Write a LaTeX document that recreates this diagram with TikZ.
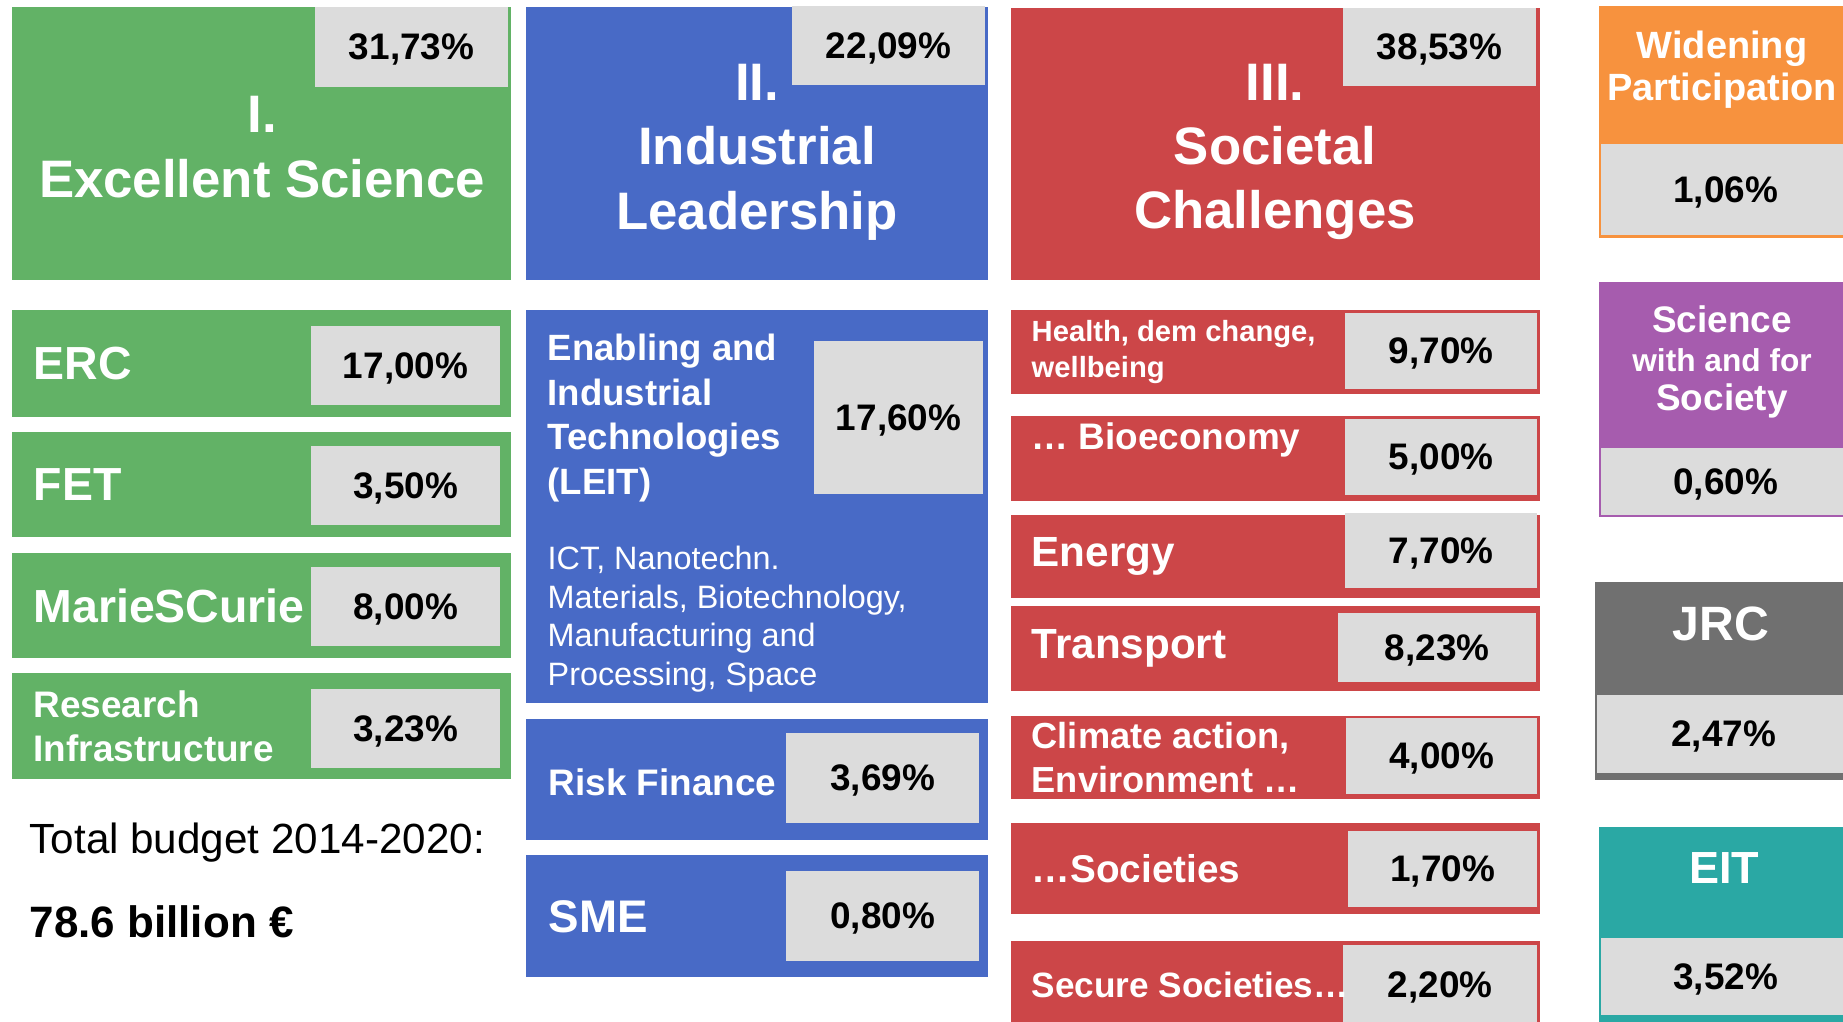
\documentclass[tikz,border=0pt]{standalone}
\usepackage{fontspec}
\setmainfont{Liberation Sans}
\usetikzlibrary{calc, positioning}

\definecolor{esgreen}{RGB}{98,178,102}
\definecolor{ilblue}{RGB}{72,106,198}
\definecolor{scred}{RGB}{204,70,72}
\definecolor{wporange}{RGB}{247,146,62}
\definecolor{swspurple}{RGB}{166,92,174}
\definecolor{jrcgray}{RGB}{112,112,112}
\definecolor{eitteal}{RGB}{42,168,164}
\definecolor{pctgray}{RGB}{220,220,220}
\newcommand{\fsz}[2]{\fontsize{#1}{#2}\selectfont}

\begin{document}
\begin{tikzpicture}[x=0.01cm, y=-0.01cm,
    block/.style=
    {anchor=north west, inner sep=0pt, outer sep=0pt, text=white, align=center}, pct/.style=
    {anchor=north west, fill=pctgray, inner sep=0pt, outer sep=0pt, text depth=0pt, font=\bfseries\fsz{10.5}{12}},
    sz/.style 2 args={minimum width=#1cm, minimum height=#2cm},
    lbl/.style=
    {text=white, inner sep=0pt, anchor=west, align=left}, clbl/.style=
    {lbl, anchor=center, align=center},
    headfont/.style={font=\bfseries\fsz{15}{18.3}},
    node distance = 0.21cm]
    \useasboundingbox (0,0) rectangle (1843,1022);
    \fill[white] (0,0) rectangle (1843,1022);
    \clip (0,0) rectangle (1843,1022);
    % I. Excellent Science
    \node (es) [block, fill=esgreen, sz={4.99}{2.73}] at (12,7) {};
    \node (esP) [pct, sz={1.93}{0.80}] at (315,7) {31,73\%};
    \node (esL) [clbl, headfont] at (262,147) {I.\\Excellent Science};
    \node (erc) [block, fill=esgreen, sz={4.99}{1.07}] at (12,310) {};
    \node (ercP) [pct, sz={1.89}{0.79}] at (311,326) {17,00\%};
    \node (ercL) [lbl, font=\bfseries\fsz{13.2}{15}, right=of erc.west] {ERC};
    \node (fet) [block, fill=esgreen, sz={4.99}{1.05}] at (12,432) {};
    \node (fetP) [pct, sz={1.89}{0.79}] at (311,446) {3,50\%};
    \node (fetL) [lbl, font=\bfseries\fsz{13.2}{15}, right=of fet.west] {FET};
    \node (msc) [block, fill=esgreen, sz={4.99}{1.05}] at (12,553) {};
    \node (mscP) [pct, sz={1.89}{0.79}] at (311,567) {8,00\%};
    \node (mscL) [lbl, font=\bfseries\fsz{13.2}{15}, right=of msc.west] {MarieSCurie};
    \node (ri) [block, fill=esgreen, sz={4.99}{1.06}] at (12,673) {};
    \node (riP) [pct, sz={1.89}{0.79}] at (311,689) {3,23\%};
    \node (riL) [lbl, font=\bfseries\fsz{10.5}{12.5}, right=of ri.west] {Research\\Infrastructure};
    \node (tb) [anchor=west, inner sep=0pt, font=\fsz{12}{14}] at (29,843) {Total budget 2014-2020:};
    \node (tbv) [anchor=west, inner sep=0pt, font=\bfseries\fsz{12.5}{14}] at (29,922) {78.6 billion €};
    % II. Industrial Leadership
    \node (il) [block, fill=ilblue, sz={4.62}{2.73}] at (526,7) {};
    \node (ilL) [clbl, headfont] at (757,152) {II.\\Industrial\\Leadership};
    \node (ilP) [pct, sz={1.93}{0.79}] at (792,6) {22,09\%};
    \node (leit) [block, fill=ilblue, sz={4.62}{3.93}] at (526,310) {};
    \node (leitP) [pct, sz={1.69}{1.53}] at (814,341) {17,60\%};
    \node (leitL) [lbl, font=\bfseries\fsz{10.4}{12.7}] at (547,418) {Enabling and\\Industrial\\Technologies\\(LEIT)};
    \node (leitS) [lbl, font=\fsz{9.2}{11}] at (547,619) {ICT, Nanotechn.\\Materials, Biotechnology,\\Manufacturing and\\Processing, Space};
    \node (rf) [block, fill=ilblue, sz={4.62}{1.21}] at (526,719) {};
    \node (rfP) [pct, sz={1.93}{0.90}] at (786,733) {3,69\%};
    \node (rfL) [lbl, font=\bfseries\fsz{10.5}{12}] at (548,782) {Risk Finance};
    \node (sme) [block, fill=ilblue, sz={4.62}{1.22}] at (526,855) {};
    \node (smeP) [pct, sz={1.93}{0.90}] at (786,871) {0,80\%};
    \node (smeL) [lbl, font=\bfseries\fsz{13}{15}] at (548,917) {SME};
    % III. Societal Challenges
    \node (sc) [block, fill=scred, sz={5.29}{2.72}] at (1011,8) {};
    \node (scL) [clbl, headfont] at (1275,152) {III.\\Societal\\Challenges};
    \node (scP) [pct, sz={1.93}{0.78}] at (1343,8) {38,53\%};
    \node (health) [block, fill=scred, sz={5.29}{0.84}] at (1011,310) {};
    \node (healthP) [pct, sz={1.92}{0.76}] at (1345,313) {9,70\%};
    \node (healthL) [lbl, font=\bfseries\fsz{8.3}{10}, right=0.2cm of health.west] {Health, dem change,\\wellbeing};
    \node (bio) [block, fill=scred, sz={5.29}{0.85}] at (1011,416) {};
    \node (bioP) [pct, sz={1.92}{0.76}] at (1345,419) {5,00\%};
    \node (bioL) [lbl, font=\bfseries\fsz{10.5}{12}] at (1031,440) {… Bioeconomy};
    \node (energy) [block, fill=scred, sz={5.29}{0.83}] at (1011,515) {};
    \node (energyP) [pct, sz={1.92}{0.75}] at (1345,513) {7,70\%};
    \node (energyL) [lbl, font=\bfseries\fsz{12}{14}, right=0.2cm of energy.west] {Energy};
    \node (transport) [block, fill=scred, sz={5.29}{0.85}] at (1011,606) {};
    \node (transportP) [pct, sz={1.98}{0.69}] at (1338,613) {8,23\%};
    \node (transportL) [lbl, font=\bfseries\fsz{12}{14}, right=0.2cm of transport.west] {Transport};
    \node (climate) [block, fill=scred, sz={5.29}{0.83}] at (1011,716) {};
    \node (climateP) [pct, sz={1.91}{0.76}] at (1346,718) {4,00\%};
    \node (climateL) [lbl, font=\bfseries\fsz{10.3}{12.5}, right=0.2cm of climate.west] {Climate action,\\Environment …};
    \node (soc) [block, fill=scred, sz={5.29}{0.91}] at (1011,823) {};
    \node (socP) [pct, sz={1.89}{0.76}] at (1348,831) {1,70\%};
    \node (socL) [lbl, font=\bfseries\fsz{11}{13}, right=0.2cm of soc.west] {…Societies};
    \node (sec) [block, fill=scred, sz={5.29}{0.89}] at (1011,941) {};
    \node (secP) [pct, sz={1.94}{0.80}] at (1343,945) {2,20\%};
    \node (secL) [lbl, font=\bfseries\fsz{10}{12}] at (1031,985) {Secure Societies…};
    % right column
    \node (wp) [block, fill=wporange, sz={2.51}{2.32}] at (1599,6) {};
    \node (wpP) [pct, sz={2.49}{0.91}] at (1601,144) {1,06\%};
    \node (wpL) [clbl, font=\bfseries\fsz{10.8}{12}] at (1722,70) {Widening\\Participation};
    \node (sws) [block, fill=swspurple, sz={2.51}{2.35}] at (1599,282) {};
    \node (swsP) [pct, sz={2.49}{0.67}] at (1601,448) {0,60\%};
    \node (swsL) [clbl, font=\bfseries\fsz{10.5}{11}] at (1722,362) {Science\\{\fsz{9}{11}with and for}\\Society};
    \node (jrc) [block, fill=jrcgray, sz={2.55}{1.98}] at (1595,582) {};
    \node (jrcP) [pct, sz={2.53}{0.78}] at (1597,695) {2,47\%};
    \node (jrcL) [clbl, font=\bfseries\fsz{13.7}{16}] at (1721,624) {JRC};
    \node (eit) [block, fill=eitteal, sz={2.51}{2.03}] at (1599,827) {};
    \node (eitP) [pct, sz={2.49}{0.77}] at (1601,938) {3,52\%};
    \node (eitL) [clbl, font=\bfseries\fsz{12.8}{15}] at (1724,868) {EIT};
\end{tikzpicture}
\end{document}
